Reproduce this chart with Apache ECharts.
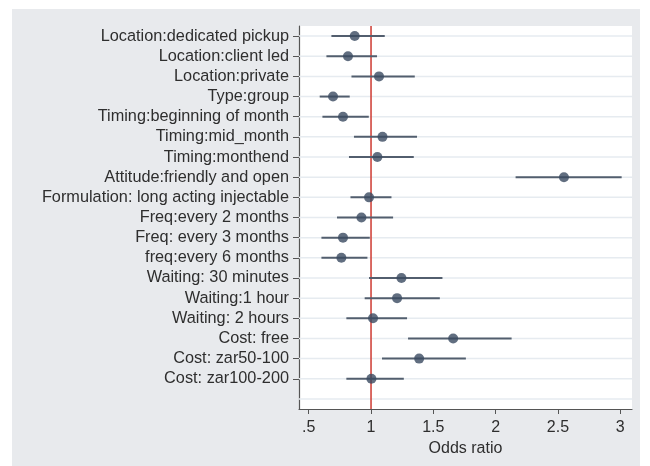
<!DOCTYPE html>
<html>
<head>
<meta charset="utf-8">
<script src="https://cdn.jsdelivr.net/npm/echarts@6/dist/echarts.min.js"></script>
<style>
  html, body { margin: 0; padding: 0; background: #fff; }
  #chart { width: 650px; height: 466px; }
</style>
</head>
<body>
<div id="chart"></div>
<script>
// Attribute levels (top to bottom)
const categories = [
  'Location:dedicated pickup',
  'Location:client led',
  'Location:private',
  'Type:group',
  'Timing:beginning of month',
  'Timing:mid_month',
  'Timing:monthend',
  'Attitude:friendly and open',
  'Formulation: long acting injectable',
  'Freq:every 2 months',
  'Freq: every 3 months',
  'freq:every 6 months',
  'Waiting: 30 minutes',
  'Waiting:1 hour',
  'Waiting: 2 hours',
  'Cost: free',
  'Cost: zar50-100',
  'Cost: zar100-200'
];
// Odds ratios with 95% confidence bounds
const oddsRatio = [0.869, 0.815, 1.064, 0.695, 0.775, 1.092, 1.051, 2.548, 0.984, 0.923, 0.775, 0.762, 1.244, 1.209, 1.016, 1.659, 1.386, 1.003];
const ciLower   = [0.682, 0.642, 0.843, 0.588, 0.610, 0.863, 0.823, 2.160, 0.835, 0.727, 0.602, 0.602, 0.984, 0.949, 0.802, 1.297, 1.088, 0.802];
const ciUpper   = [1.110, 1.048, 1.351, 0.829, 0.982, 1.369, 1.343, 3.011, 1.164, 1.177, 0.990, 0.971, 1.573, 1.552, 1.289, 2.128, 1.761, 1.263];
const xTicks = [0.5, 1, 1.5, 2, 2.5, 3];
const referenceLine = 1;

// one spare slot at the bottom of the axis
const yCats = categories.concat(['']);
const gridRows = yCats.map((_, i) => [i]);

const chart = echarts.init(document.getElementById('chart'), null, { renderer: 'canvas' });
const font = 'Liberation Sans, Arial, sans-serif';

chart.setOption({
  backgroundColor: '#ffffff',
  animation: false,
  graphic: [{
    type: 'rect', z: -100, silent: true,
    shape: { x: 12, y: 9, width: 628, height: 457 },
    style: { fill: '#e8eaed' }
  }],
  grid: {
    left: 299, right: 18, top: 26, bottom: 57,
    show: true, backgroundColor: '#ffffff', borderWidth: 0
  },
  xAxis: {
    type: 'value', min: 0.422, max: 3.094,
    name: 'Odds ratio', nameLocation: 'middle', nameGap: 27,
    nameTextStyle: { fontFamily: font, fontSize: 16, color: '#2e2e2e' },
    axisLine: { show: true, lineStyle: { color: '#555', width: 1.2 } },
    axisTick: { show: true, length: 5, customValues: xTicks, lineStyle: { color: '#555' } },
    axisLabel: {
      customValues: xTicks, margin: 11,
      fontFamily: font, fontSize: 16, color: '#2e2e2e',
      formatter: v => (v === 0.5 ? '.5' : String(v))
    },
    splitLine: { show: false }
  },
  yAxis: {
    type: 'category', data: yCats, inverse: true, boundaryGap: true,
    axisLine: { show: true, lineStyle: { color: '#555', width: 1.2 } },
    axisTick: {
      show: true, alignWithLabel: true, length: 6,
      interval: (idx) => idx < categories.length,
      lineStyle: { color: '#555' }
    },
    axisLabel: { interval: 0, margin: 10, fontFamily: font, fontSize: 16.3, color: '#2e2e2e' },
    splitLine: { show: false }
  },
  series: [
    {
      // horizontal row lines
      type: 'custom', silent: true, z: 1,
      data: gridRows,
      encode: { y: 0 },
      renderItem: (params, api) => {
        const cs = params.coordSys;
        const y = api.coord([0, api.value(0)])[1];
        return {
          type: 'line',
          shape: { x1: cs.x, y1: y, x2: cs.x + cs.width, y2: y },
          style: { stroke: '#e6ebf0', lineWidth: 1.5 }
        };
      }
    },
    {
      // reference line at odds ratio 1
      type: 'custom', silent: true, z: 2,
      data: [[referenceLine]],
      encode: { x: 0 },
      renderItem: (params, api) => {
        const cs = params.coordSys;
        const x = api.coord([api.value(0), 0])[0];
        return {
          type: 'line',
          shape: { x1: x, y1: cs.y, x2: x, y2: cs.y + cs.height },
          style: { stroke: '#d0463e', lineWidth: 1.6 }
        };
      }
    },
    {
      // confidence intervals
      type: 'custom', silent: true, z: 3,
      data: categories.map((c, i) => [ciLower[i], ciUpper[i], i]),
      encode: { x: [0, 1], y: 2 },
      renderItem: (params, api) => {
        const p1 = api.coord([api.value(0), api.value(2)]);
        const p2 = api.coord([api.value(1), api.value(2)]);
        return {
          type: 'line',
          shape: { x1: p1[0], y1: p1[1], x2: p2[0], y2: p2[1] },
          style: { stroke: '#525e6e', lineWidth: 2 }
        };
      }
    },
    {
      type: 'scatter', z: 4, silent: true,
      symbol: 'circle', symbolSize: 10,
      itemStyle: { color: '#394a60' },
      data: categories.map((c, i) => [oddsRatio[i], i])
    }
  ]
});
</script>
</body>
</html>
